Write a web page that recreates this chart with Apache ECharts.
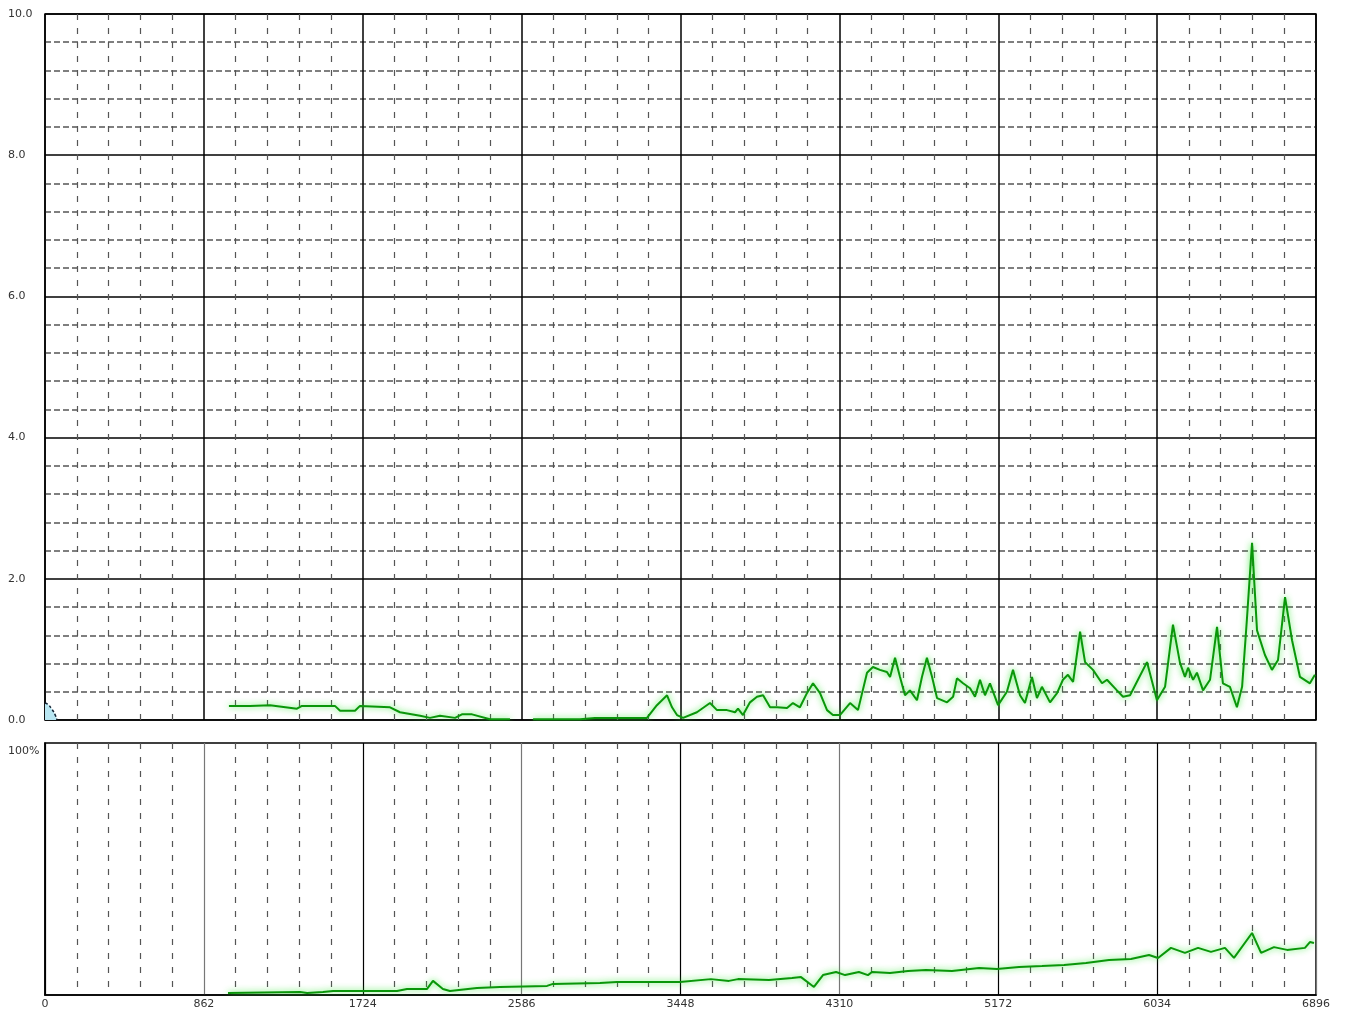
<!DOCTYPE html>
<html>
<head>
<meta charset="utf-8">
<style>html,body{margin:0;padding:0;background:#fff;}#c{width:1349px;height:1011px;}</style>
<script src="https://cdn.jsdelivr.net/npm/echarts@6/dist/echarts.min.js"></script>
</head>
<body>
<div id="c"></div>
<script>
// x-axis ticks (shared by both panels)
const xTicks = [0, 862, 1724, 2586, 3448, 4310, 5172, 6034, 6896];
const yTicksTop = [0, 2, 4, 6, 8, 10];

// small blue series at the very start (top panel)
const blueX = [0, 16, 38, 54, 65];
const blueY = [0.24, 0.22, 0.15, 0.08, 0];

// green series, top panel (null = gap)
const topX = [998,1112,1221,1367,1394,1573,1601,1682,1709,1872,1926,2035,2089,2143,2225,2262,2317,2414,2523,2585,
  2648,2903,2984,3120,3266,3320,3375,3402,3429,3462,3537,3608,3646,3700,3744,3760,3787,3825,3863,3896,3934,3972,
  4026,4058,4096,4134,4167,4205,4243,4275,4313,4368,4411,4460,4492,4530,4568,4585,4612,4639,4666,4693,4731,4758,
  4785,4813,4840,4894,4927,4948,4981,5019,5046,5073,5100,5127,5171,5219,5252,5290,5317,5355,5382,5409,5453,5491,
  5523,5550,5578,5616,5643,5686,5735,5762,5816,5849,5887,5930,5979,6033,6077,6120,6158,6185,6202,6229,6250,6283,
  6321,6359,6391,6429,6467,6495,6521,6549,6576,6619,6657,6690,6728,6766,6809,6863,6890];
const topY = [0.20,0.20,0.21,0.16,0.20,0.20,0.13,0.13,0.20,0.18,0.11,0.06,0.03,0.06,0.03,0.08,0.08,0.01,0.01,null,
  0.01,0.01,0.03,0.03,0.03,0.21,0.35,0.18,0.07,0.03,0.11,0.24,0.14,0.14,0.11,0.16,0.07,0.25,0.33,0.35,0.18,0.18,
  0.17,0.24,0.18,0.38,0.52,0.38,0.14,0.07,0.07,0.24,0.14,0.67,0.75,0.71,0.68,0.61,0.88,0.61,0.35,0.42,0.28,0.61,
  0.88,0.61,0.31,0.25,0.33,0.59,0.52,0.45,0.33,0.57,0.35,0.52,0.21,0.40,0.71,0.35,0.24,0.61,0.31,0.47,0.25,0.38,
  0.57,0.64,0.54,1.25,0.82,0.71,0.52,0.57,0.42,0.33,0.35,0.57,0.82,0.28,0.47,1.35,0.81,0.61,0.74,0.57,0.67,0.42,
  0.57,1.32,0.52,0.47,0.18,0.47,1.42,2.51,1.27,0.92,0.71,0.85,1.74,1.13,0.61,0.52,0.64];

// green series, bottom panel (percent)
const botX = [993,1384,1422,1508,1563,1725,1910,1964,2073,2105,2159,2197,2344,2469,2724,2756,3011,3103,3283,3445,
  3613,3711,3760,3928,4053,4102,4172,4221,4292,4341,4416,4465,4487,4585,4682,4780,4921,5068,5165,5285,5409,5529,
  5648,5773,5892,5990,6039,6109,6185,6256,6326,6402,6451,6549,6598,6668,6739,6836,6863,6885];
const botY = [0.8,1.2,0.8,1.2,1.6,1.6,1.6,2.4,2.4,5.6,2.4,1.6,2.8,3.2,3.6,4.4,4.8,5.2,5.2,5.2,
  6.3,5.6,6.3,6.0,6.7,7.1,3.2,7.9,9.1,7.9,9.1,7.9,9.1,8.7,9.5,9.9,9.5,10.7,10.3,11.1,11.5,11.9,
  12.7,13.9,14.3,15.9,14.7,18.7,16.7,18.7,17.1,18.7,14.7,24.6,16.7,19.0,17.9,18.7,21.0,20.6];

const zip = (xs, ys) => xs.map((x, i) => [x, ys[i] === null ? '-' : ys[i]]);

const labelFont = {fontFamily: 'DejaVu Sans', fontSize: 11, color: '#333'};
const greenLine = {color: '#0a960a', width: 2, shadowBlur: 6, shadowColor: 'rgba(40,230,40,0.85)'};

const chart = echarts.init(document.getElementById('c'));
chart.setOption({
  animation: false,
  backgroundColor: '#fff',
  grid: [
    {left: 45, right: 33, top: 14, height: 706, show: true, borderColor: '#000', borderWidth: 1.5, backgroundColor: '#fff'},
    {left: 45, right: 33, top: 743, height: 252, show: true, borderColor: '#000', borderWidth: 1.5, backgroundColor: '#fff'}
  ],
  xAxis: [
    {type: 'value', gridIndex: 0, min: xTicks[0], max: xTicks[xTicks.length - 1], interval: 862,
     axisLine: {show: false}, axisTick: {show: false}, axisLabel: {show: false},
     splitLine: {show: true, lineStyle: {color: '#000', width: 1.5}},
     minorTick: {show: false, splitNumber: 5},
     minorSplitLine: {show: true, lineStyle: {color: '#555', width: 1.2, type: [6, 8]}}},
    {type: 'value', gridIndex: 1, min: xTicks[0], max: xTicks[xTicks.length - 1], interval: 862,
     axisLine: {show: true, lineStyle: {color: '#000', width: 1.5}}, axisTick: {show: false},
     axisLabel: Object.assign({margin: 4, formatter: v => String(v)}, labelFont),
     splitLine: {show: true, lineStyle: {color: ['#000', '#777', '#000', '#777', '#000', '#777', '#000', '#000', '#777'], width: 1.2}},
     minorTick: {show: false, splitNumber: 5},
     minorSplitLine: {show: true, lineStyle: {color: '#555', width: 1.2, type: [6, 8]}}}
  ],
  yAxis: [
    {type: 'value', gridIndex: 0, min: yTicksTop[0], max: yTicksTop[yTicksTop.length - 1], interval: 2,
     axisLine: {show: false}, axisTick: {show: false},
     axisLabel: Object.assign({align: 'left', margin: 37, formatter: v => v.toFixed(1)}, labelFont),
     splitLine: {show: true, lineStyle: {color: '#000', width: 1.5}},
     minorTick: {show: false, splitNumber: 5},
     minorSplitLine: {show: true, lineStyle: {color: '#555', width: 1.5, type: [6, 3]}}},
    {type: 'value', gridIndex: 1, min: 0, max: 100, interval: 100,
     axisLine: {show: true, lineStyle: {color: '#000', width: 1.5}}, axisTick: {show: false},
     axisLabel: Object.assign({align: 'left', margin: 37, verticalAlign: 'top', padding: [3, 0, 0, 0],
       formatter: v => v === 100 ? '100%' : ''}, labelFont),
     splitLine: {show: false}}
  ],
  series: [
    {type: 'line', xAxisIndex: 0, yAxisIndex: 0, data: zip(blueX, blueY), showSymbol: false, smooth: true,
     lineStyle: {color: '#123', width: 1.5, type: [3, 2]}, areaStyle: {color: '#b8e6f2', opacity: 1}},
    {type: 'line', xAxisIndex: 0, yAxisIndex: 0, data: zip(topX, topY), showSymbol: false, connectNulls: false,
     lineStyle: greenLine},
    {type: 'line', xAxisIndex: 1, yAxisIndex: 1, data: zip(botX, botY), showSymbol: false,
     lineStyle: greenLine}
  ]
});
</script>
</body>
</html>
